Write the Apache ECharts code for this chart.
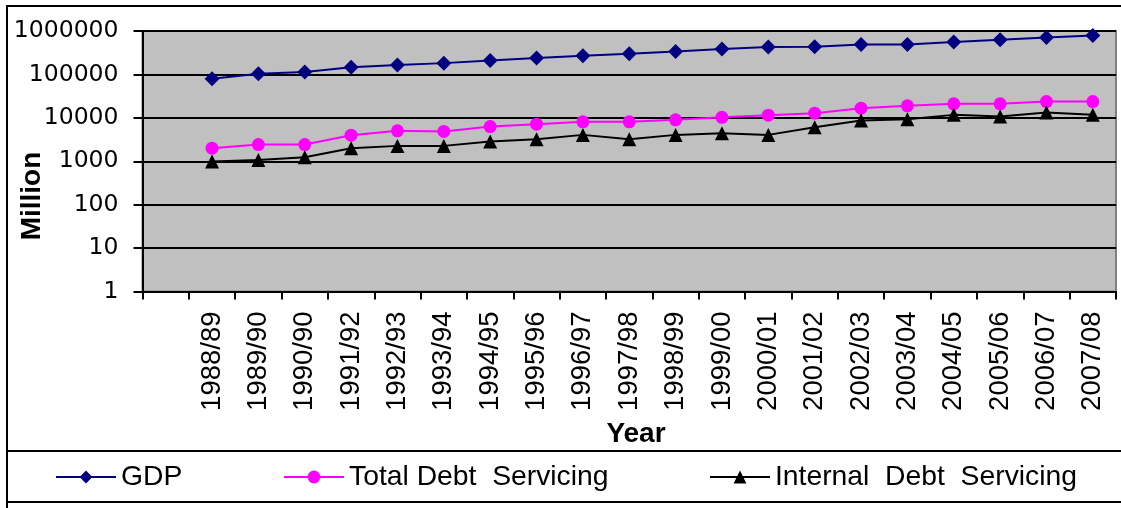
<!DOCTYPE html>
<html>
<head>
<meta charset="utf-8">
<title>GDP and Debt Servicing</title>
<script src="https://cdn.jsdelivr.net/npm/echarts@6/dist/echarts.min.js"></script>
<style>
  html, body { margin: 0; padding: 0; background: #ffffff; }
  #chart { width: 1121px; height: 508px; }
</style>
</head>
<body>
<div id="chart"></div>
<script>
// Fiscal years; the first slot on the axis is left empty.
const years = ['', '1988/89', '1989/90', '1990/90', '1991/92', '1992/93', '1993/94', '1994/95',
  '1995/96', '1996/97', '1997/98', '1998/99', '1999/00', '2000/01', '2001/02', '2002/03',
  '2003/04', '2004/05', '2005/06', '2006/07', '2007/08'];

// Values in million
const gdp = [null, 79000, 103000, 113000, 147000, 164000, 182000, 209000, 238000, 268000,
  298000, 337000, 385000, 426000, 435000, 489000, 489000, 556000, 628000, 709000, 789000];
const totalDebtServicing = [null, 2000, 2420, 2420, 3990, 5010, 4870, 6290, 7150, 8080,
  8080, 8980, 10250, 11530, 12820, 16700, 18900, 21000, 21000, 23700, 23700];
const internalDebtServicing = [null, 990, 1075, 1240, 2000, 2260, 2260, 2840, 3230, 4050,
  3230, 4050, 4440, 4050, 6100, 8650, 9330, 11700, 10700, 13200, 11700];

// Log axis range (decades from 1 to 1000000)
const yMin = 1;
const yMax = 1000000;

const chart = echarts.init(document.getElementById('chart'), null, { renderer: 'canvas' });

const legendText = { fontSize: 28.3, color: '#000000', fontFamily: '"Liberation Sans", Arial, sans-serif' };
function legendAt(name, left) {
  return {
    data: [name], left: left, top: 463, padding: 0,
    itemWidth: 60, itemHeight: 16, textStyle: legendText, selectedMode: false
  };
}

chart.setOption({
  animation: false,
  backgroundColor: '#ffffff',
  grid: {
    left: 142.5, right: 5, top: 31, bottom: 216.5,
    show: true, backgroundColor: '#C0C0C0', borderColor: '#808080', borderWidth: 2
  },
  xAxis: {
    type: 'category',
    data: years,
    boundaryGap: true,
    axisLine: { lineStyle: { color: '#000000', width: 2 } },
    axisTick: { show: true, alignWithLabel: false, length: 8, lineStyle: { color: '#000000', width: 2 } },
    axisLabel: {
      interval: 0, rotate: 90, margin: 20, color: '#000000',
      fontSize: 27.5, fontFamily: '"Liberation Sans", Arial, sans-serif'
    },
    splitLine: { show: false }
  },
  yAxis: {
    type: 'log',
    logBase: 10,
    min: yMin,
    max: yMax,
    axisLine: { show: true, lineStyle: { color: '#000000', width: 2 } },
    axisTick: { show: true, length: 9, lineStyle: { color: '#000000', width: 2 } },
    axisLabel: {
      margin: 24, color: '#000000', fontSize: 23.5,
      fontFamily: '"DejaVu Sans", "Liberation Sans", sans-serif',
      formatter: function (v) { return String(Math.round(v)); }
    },
    splitLine: { show: true, lineStyle: { color: '#000000', width: 2 } }
  },
  legend: [
    legendAt('GDP', 55),
    legendAt('Total Debt  Servicing', 283),
    legendAt('Internal  Debt  Servicing', 709)
  ],
  series: [
    {
      name: 'GDP', type: 'line', data: gdp,
      symbol: 'diamond', symbolSize: 15, showAllSymbol: true,
      itemStyle: { color: '#000080' },
      lineStyle: { color: '#000080', width: 2 }
    },
    {
      name: 'Total Debt  Servicing', type: 'line', data: totalDebtServicing,
      symbol: 'circle', symbolSize: 13, showAllSymbol: true,
      itemStyle: { color: '#FF00FF' },
      lineStyle: { color: '#FF00FF', width: 2 }
    },
    {
      name: 'Internal  Debt  Servicing', type: 'line', data: internalDebtServicing,
      symbol: 'triangle', symbolSize: 14, showAllSymbol: true,
      itemStyle: { color: '#000000' },
      lineStyle: { color: '#000000', width: 2 }
    }
  ],
  graphic: [
    // chart frame and legend box
    { type: 'rect', z: 100, silent: true,
      shape: { x: 7, y: 6, width: 1130, height: 520 },
      style: { fill: 'none', stroke: '#000000', lineWidth: 2 } },
    { type: 'rect', z: 100, silent: true,
      shape: { x: 7, y: 451, width: 1130, height: 51 },
      style: { fill: 'none', stroke: '#000000', lineWidth: 2 } },
    // axis titles
    { type: 'text', z: 100, silent: true,
      x: 636, y: 434,
      style: { text: 'Year', fontSize: 28, fontWeight: 'bold', fill: '#000000',
        fontFamily: '"Liberation Sans", Arial, sans-serif', align: 'center', verticalAlign: 'middle' } },
    { type: 'text', z: 100, silent: true,
      x: 32, y: 196, rotation: Math.PI / 2,
      style: { text: 'Million', fontSize: 28, fontWeight: 'bold', fill: '#000000',
        fontFamily: '"Liberation Sans", Arial, sans-serif', align: 'center', verticalAlign: 'middle' } }
  ]
});
</script>
</body>
</html>
